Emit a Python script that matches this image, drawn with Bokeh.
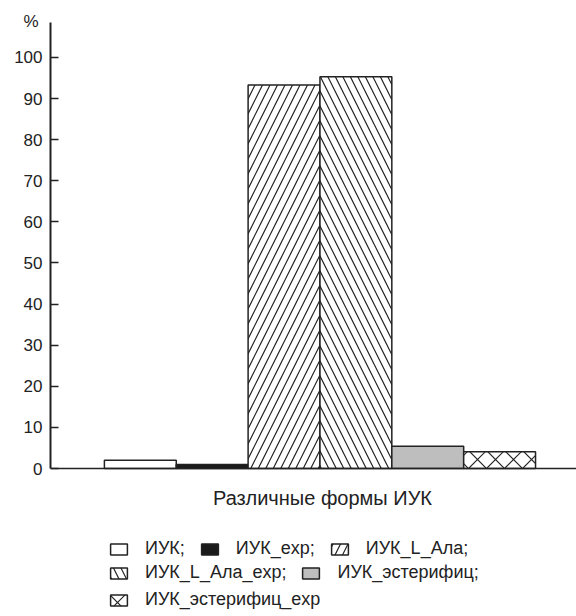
from bokeh.plotting import figure
from bokeh.models import FixedTicker, Label, Legend, LegendItem, Range1d, Span, Title
from bokeh.embed import file_html
from bokeh.resources import INLINE

categories = ["ИУК;", "ИУК_exp;", "ИУК_L_Ала;", "ИУК_L_Ала_exp;", "ИУК_эстерифиц;", "ИУК_эстерифиц_exp"]
values = [2.0, 1.0, 93.3, 95.3, 5.4, 4.1]
fills = ["white", "#1a1a1a", "white", "white", "#bebebe", "white"]
hatches = [None, None, "/", "\\", None, "x"]
hatch_scales = [12, 12, 15, 15, 12, 18]
y_ticks = [0, 10, 20, 30, 40, 50, 60, 70, 80, 90, 100]
y_top = 108.5
legend_rows = [[0, 1, 2], [3, 4], [5]]

FONT = "Liberation Sans"

p = figure(width=576, height=616, output_backend="svg", toolbar_location=None,
           x_range=Range1d(-1.25, 6.07), y_range=Range1d(-36.0, y_top),
           min_border_left=50, min_border_right=0, min_border_top=22, min_border_bottom=0)
p.outline_line_color = None
p.grid.visible = False
p.xaxis.visible = False
p.background_fill_color = "white"

renderers = []
for i, v in enumerate(values):
    kw = dict(x=[i], top=[v], width=1.0, bottom=0, fill_color=fills[i],
              line_color="#222222", line_width=1.5)
    if hatches[i]:
        kw.update(hatch_pattern=hatches[i], hatch_color="#222222",
                  hatch_scale=hatch_scales[i], hatch_weight=1.2)
    renderers.append(p.vbar(**kw))

p.add_layout(Span(location=0, dimension="width", line_color="#222222", line_width=1.5))

ya = p.yaxis[0]
ya.bounds = (0, y_top)
ya.ticker = FixedTicker(ticks=y_ticks)
ya.minor_tick_line_color = None
ya.major_tick_in = 8
ya.major_tick_out = 0
ya.major_tick_line_width = 1.5
ya.major_tick_line_color = "#222222"
ya.axis_line_width = 2
ya.axis_line_color = "#222222"
ya.major_label_text_font = FONT
ya.major_label_text_font_size = "17px"
ya.major_label_text_color = "#222222"
ya.major_label_standoff = 8

p.add_layout(Title(text="%", align="left", offset=-27, standoff=-16,
                   text_font=FONT, text_font_size="17px", text_font_style="normal",
                   text_color="#222222"), "above")
p.add_layout(Label(x=272, y=119, x_units="screen", y_units="screen",
                   text="Различные формы ИУК", text_font=FONT, text_font_size="20px",
                   text_color="#222222", text_align="center", text_baseline="middle"))

row_y = [57, 33, 6]
for r, idxs in enumerate(legend_rows):
    items = [LegendItem(label=categories[i], renderers=[renderers[i]]) for i in idxs]
    lg = Legend(items=items, orientation="horizontal", location=(58, row_y[r]),
                padding=0, margin=0, spacing=14, label_standoff=16,
                glyph_width=21, glyph_height=14, label_height=18,
                label_text_font=FONT, label_text_font_size="18px",
                label_text_color="#222222",
                background_fill_alpha=0, border_line_color=None)
    p.add_layout(lg, "center")

open("out.html", "w").write(file_html(p, INLINE))
